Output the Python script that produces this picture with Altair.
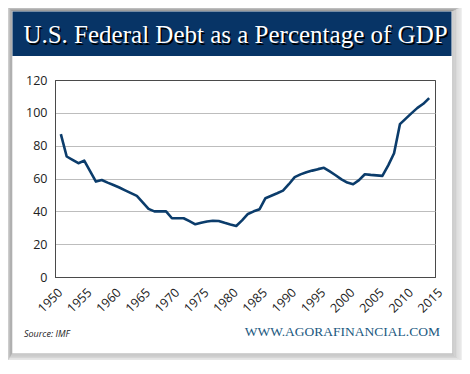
import altair as alt
import pandas as pd

# ---- data ----
years = list(range(1951, 2015))
debt = [
    87.0, 73.4, 71.3, 69.3, 70.9, 64.5, 58.1, 59.1, 57.5, 56.0,
    54.5, 52.8, 51.1, 49.4, 45.5, 41.5, 40.0, 40.0, 40.0, 35.8,
    35.8, 35.8, 34.0, 32.1, 33.0, 33.8, 34.3, 34.1, 33.0, 32.0,
    31.1, 34.5, 38.4, 40.0, 41.3, 48.0, 49.5, 51.0, 52.6, 56.5,
    60.8, 62.5, 63.8, 64.8, 65.7, 66.5, 64.3, 62.0, 59.5, 57.5,
    56.5, 59.0, 62.6, 62.2, 61.9, 61.6, 68.0, 75.4, 93.1, 96.5,
    99.8, 103.0, 105.5, 109.0,
]
x_ticks = list(range(1950, 2020, 5))
y_ticks = [0, 20, 40, 60, 80, 100, 120]
title_text = "U.S. Federal Debt as a Percentage of GDP"
source_text = "Source: IMF"
site_text = "WWW.AGORAFINANCIAL.COM"

df = pd.DataFrame({"year": years, "debt": debt})
one = pd.DataFrame({"k": [0]})

W, H = 380, 197
xs = alt.Scale(domain=[1950, 2015], nice=False, zero=False)
ys = alt.Scale(domain=[0, 120], nice=False)

# card edges (relative to plot area)
CL, CT, CR, CB = -42.5, -68.5, 396.5, 272.5

layers = []
# soft drop shadow drawn as outlines around the (white) card
for k in range(1, 12):
    op = 0.24 * (1 - (k - 1) / 11) ** 1.2
    layers.append(
        alt.Chart(one).mark_rect(filled=False, stroke="#000000", strokeOpacity=op, strokeWidth=1.2).encode(
            x=alt.value(CL - 0.7 * k), x2=alt.value(CR + 1.3 * k),
            y=alt.value(CT - 0.6 * k), y2=alt.value(CB + 1.3 * k),
        )
    )
# banner
layers.append(
    alt.Chart(one).mark_rect(color="#073466").encode(
        x=alt.value(CL), x2=alt.value(CR), y=alt.value(CT), y2=alt.value(-24)
    )
)
# title shadow + title
layers.append(
    alt.Chart(one).mark_text(text=title_text, font="Liberation Serif", fontSize=25,
                             color="#000000", align="center", baseline="alphabetic").encode(
        x=alt.value(182), y=alt.value(-35.5)
    )
)
layers.append(
    alt.Chart(one).mark_text(text=title_text, font="Liberation Serif", fontSize=25,
                             color="#ffffff", align="center", baseline="alphabetic").encode(
        x=alt.value(180.5), y=alt.value(-37)
    )
)
# footer texts
layers.append(
    alt.Chart(one).mark_text(text=source_text, font="Open Sans", fontSize=9, fontStyle="italic",
                             color="#222222", align="left", baseline="alphabetic").encode(
        x=alt.value(-31), y=alt.value(257)
    )
)
layers.append(
    alt.Chart(one).mark_text(text=site_text, font="Liberation Serif", fontSize=13.5,
                             color="#21597f", align="right", baseline="alphabetic").encode(
        x=alt.value(385), y=alt.value(256)
    )
)

frame_or_grid = alt.condition("datum.value == 0 || datum.value == 120",
                              alt.value("#4a4a4a"), alt.value("#bdbdbd"))

# the data line with axes
line = alt.Chart(df).mark_line(color="#0b3c6b", strokeWidth=2.6, strokeJoin="round").encode(
    x=alt.X("year:Q", scale=xs,
            axis=alt.Axis(values=x_ticks, format="d", labelAngle=-45, labelAlign="right",
                          labelBaseline="middle", ticks=False, grid=False, domainColor="#4a4a4a",
                          labelFont="Open Sans", labelFontSize=12.5, labelColor="#222222",
                          labelPadding=13, labelOffset=5, title=None, labelOverlap=False)),
    y=alt.Y("debt:Q", scale=ys,
            axis=alt.Axis(values=y_ticks, ticks=False, grid=True, gridColor=frame_or_grid,
                          gridWidth=1, domainColor="#4a4a4a",
                          labelFont="Open Sans", labelFontSize=12.5, labelColor="#222222",
                          labelPadding=8, title=None)),
)
layers.append(line)

chart = alt.layer(*layers).properties(
    width=W, height=H,
    autosize=alt.AutoSizeParams(type="none"),
    padding={"left": 47, "top": 72, "right": 27, "bottom": 83},
    background="#ffffff",
).configure_view(stroke="#4a4a4a", strokeWidth=1)

chart.save("out.html", embed_options={"renderer": "svg", "actions": False})
